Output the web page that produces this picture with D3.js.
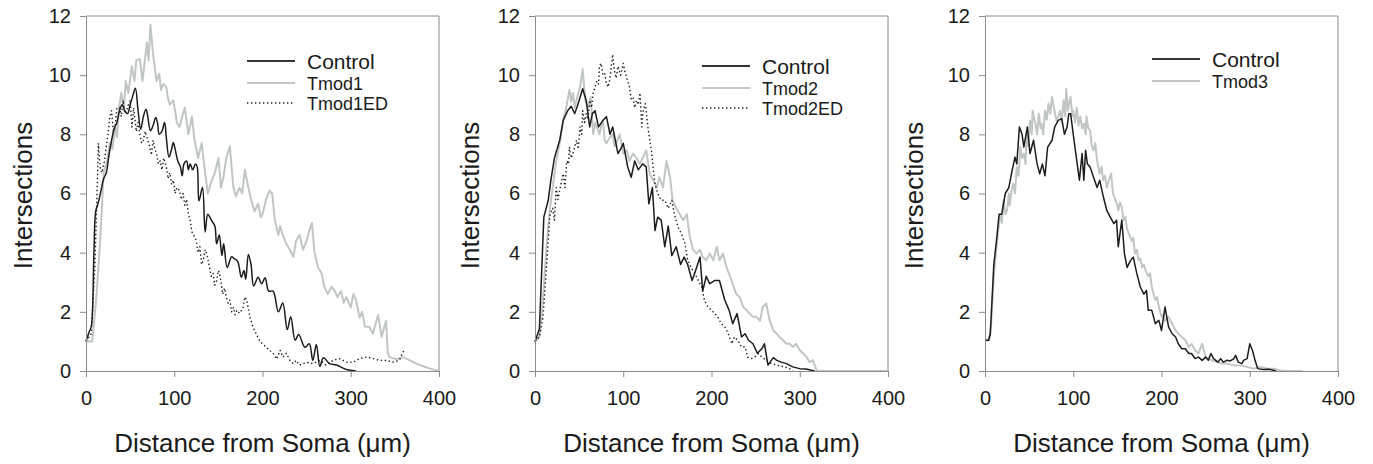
<!DOCTYPE html>
<html>
<head>
<meta charset="UTF-8">
<title>Sholl analysis</title>
<style>
  body { margin: 0; background: #fff; }
  svg { display: block; font-family: "Liberation Sans", Arial, sans-serif; }
  .tick text { fill: #1a1a1a; font-size: 20px; }
  .tick line, .domain { stroke: #8a8a8a; }
</style>
</head>
<body>
<div id="chart"></div>
<script src="https://d3js.org/d3.v7.min.js"></script>
<script>
// Sholl profiles: [distance from soma (um), intersections]
const xTicks = [0, 100, 200, 300, 400];
const yTicks = [0, 2, 4, 6, 8, 10, 12];

const p1Control = [[0,1.0],[4,1.35],[6,1.5],[9,4.0],[11,5.4],[14,5.7],[17,6.1],[20,6.5],[23,6.7],[26,7.3],[29,7.8],[32,8.2],[35,8.4],[38,8.8],[41,9.0],[44,8.8],[47,8.7],[50,9.0],[53,9.3],[56,9.56],[59,8.8],[62,8.17],[65,8.6],[68,8.85],[70,8.6],[73,8.12],[76,8.3],[79,8.57],[81,8.4],[83,8.0],[86,8.1],[89,8.4],[91,7.9],[94,7.23],[97,7.5],[99,7.72],[101,7.5],[104,7.1],[107,6.9],[109,6.6],[111,7.0],[114,7.1],[116,6.8],[118,7.0],[121,6.8],[124,7.0],[126,6.9],[128,5.75],[132,6.2],[135,4.7],[138,5.3],[142,5.1],[146,4.9],[148,4.3],[151,4.6],[154,3.9],[156,4.3],[160,3.5],[165,3.86],[168,3.8],[172,3.7],[176,3.17],[179,3.4],[181,3.1],[184,3.94],[187,3.6],[190,2.87],[195,3.17],[199,2.95],[203,3.15],[207,2.7],[212,2.7],[218,2.0],[223,2.3],[228,1.4],[232,1.83],[237,1.04],[241,1.23],[248,0.8],[253,0.92],[257,0.36],[261,0.9],[265,0.15],[269,0.45],[276,0.25],[284,0.2],[295,0.05],[306,0]];
const p1Tmod1 = [[0,1.0],[7,1.0],[8,1.26],[12,2.6],[16,4.4],[18,5.5],[20,6.7],[24,7.1],[27,7.7],[30,7.5],[33,8.25],[35,7.9],[37,8.8],[40,9.4],[43,8.9],[45,9.8],[48,9.4],[52,10.3],[55,9.8],[57,10.5],[61,10.55],[64,9.8],[69,11.1],[71,10.5],[73,11.7],[76,10.7],[80,9.8],[83,10.05],[85,9.5],[87.5,9.7],[91,9.6],[93,9.2],[95,9.0],[99,9.15],[103,8.4],[106,8.25],[109,8.6],[112,8.9],[116,8.0],[120,8.6],[123,7.8],[127,7.2],[131,7.7],[135,6.7],[138,6.0],[142,6.4],[146,6.7],[150,7.2],[153,6.2],[156,6.6],[159,7.2],[163,7.6],[167,6.2],[170,5.9],[174,6.2],[177,6.0],[180,6.8],[184,6.2],[187,5.8],[191,5.4],[195,5.65],[198,5.2],[200,5.3],[204,5.8],[208,6.1],[211,6.0],[214,5.1],[218,4.6],[220,4.9],[223,4.6],[227,4.3],[231,4.1],[235,3.85],[238,4.4],[242,4.6],[246,4.1],[250,4.4],[253,4.75],[256,5.0],[259,4.0],[263,3.5],[267,3.3],[270,2.85],[274,2.6],[278,2.85],[282,2.7],[285,2.5],[289,2.7],[292,2.3],[295,2.5],[300,2.15],[303,2.6],[306,2.4],[310,1.8],[313,2.0],[316,1.5],[321,1.5],[325,1.26],[331,1.9],[335,1.15],[340,1.7],[342,0.6],[344,0.47],[352,0.4],[359,0.47],[367,0.36],[374,0.25],[382,0.16],[390,0.08],[400,0]];
const p1Tmod1ED = [[0,1.0],[6,1.26],[10,3.5],[13,6.5],[14,7.7],[16,6.9],[18,6.7],[21,7.1],[23,7.6],[25,8.0],[27,8.6],[29,8.8],[31,8.1],[33,8.25],[35,8.9],[38,8.9],[40,8.6],[42,9.15],[44,8.7],[46,8.8],[48,9.0],[50,9.15],[52,8.25],[54,8.9],[57,8.1],[59,8.4],[61,8.0],[63,7.7],[65,7.8],[67,8.1],[69,7.9],[72,7.6],[74,7.3],[76,7.8],[78,7.5],[80,7.35],[82,7.0],[84,7.1],[86,6.8],[88,7.2],[91,6.9],[93,6.5],[95,6.7],[97,6.3],[99,6.45],[101,6.0],[103,6.2],[106,6.1],[108,5.8],[110,6.0],[112,5.6],[114,5.8],[116,5.3],[118,5.1],[120,4.7],[122,4.6],[125,4.4],[127,4.0],[129,4.2],[131,3.6],[133,3.75],[135,4.1],[137,3.95],[140,3.5],[142,3.2],[144,3.3],[146,2.9],[148,3.05],[150,3.4],[152,3.2],[155,2.6],[157,2.8],[159,2.5],[161,2.3],[163,2.4],[165,2.0],[167,2.15],[169,1.9],[171,2.05],[174,1.95],[178,2.15],[180,2.5],[182,2.4],[186,1.8],[189,1.5],[193,1.25],[197,1.0],[201,0.9],[204,0.8],[208,0.7],[212,0.6],[216,0.4],[220,0.7],[223,0.47],[227,0.6],[231,0.36],[235,0.25],[238,0.36],[242,0.2],[250,0.3],[257,0.25],[265,0.36],[272,0.2],[280,0.36],[287,0.42],[295,0.3],[303,0.3],[310,0.42],[318,0.47],[325,0.42],[333,0.36],[340,0.36],[348,0.3],[355,0.36],[361,0.75]];

const p2Control = [[0,0.98],[5,1.43],[10,5.2],[15,5.77],[18,6.45],[22,7.2],[25,7.5],[28,7.8],[32,8.47],[37,8.8],[41,8.95],[45,8.7],[49,9.04],[54,9.54],[58,9.15],[62,8.25],[65,8.7],[68,8.8],[72,8.25],[77,8.47],[81,8.6],[85,8.0],[88,8.25],[91,7.8],[94,7.35],[97,7.5],[100,7.7],[105,6.9],[109,6.55],[113,7.1],[117,6.8],[122,7.0],[126,6.9],[129,5.65],[133,6.2],[136,4.75],[139,5.2],[143,5.1],[147,4.2],[151,4.9],[155,3.9],[160,4.2],[165,3.6],[169,3.85],[173,3.6],[178,3.06],[182,3.4],[187,3.85],[190,2.7],[194,3.2],[198,2.95],[204,3.06],[209,3.06],[215,2.4],[220,2.05],[224,1.6],[229,1.94],[234,1.15],[238,1.26],[242,1.04],[247,0.92],[252,0.6],[257,0.75],[260,0.92],[264,0.2],[270,0.45],[274,0.36],[279,0.3],[285,0.25],[292,0.14],[300,0.08],[307,0.07],[317,0]];
const p2Tmod2 = [[0,1.0],[5,1.15],[9,2.4],[13,4.2],[17,5.5],[20,6.2],[24,7.1],[28,7.7],[32,8.5],[36,9.0],[39,9.5],[41,9.1],[43,9.4],[45,8.9],[47,9.15],[51,9.6],[54,10.2],[57,9.15],[60,8.9],[63,9.26],[66,8.0],[68,8.4],[70,8.25],[73,8.0],[75,8.3],[77,8.47],[79,7.8],[81,7.7],[85,7.9],[88,8.0],[90,7.6],[92,7.7],[96,8.0],[100,7.35],[104,7.46],[107,7.1],[111,7.35],[115,7.2],[119,7.0],[122,7.2],[126,7.46],[130,6.67],[134,6.45],[138,6.2],[141,6.55],[145,6.2],[149,7.1],[153,6.55],[156,5.77],[160,5.5],[164,5.3],[168,5.1],[172,5.3],[175,4.6],[179,4.1],[183,3.97],[187,4.1],[190,3.85],[194,3.74],[198,3.97],[202,3.74],[206,4.2],[209,3.74],[213,3.97],[217,3.5],[221,3.2],[224,2.95],[228,2.6],[232,2.5],[236,2.16],[240,2.05],[243,1.94],[247,1.83],[251,1.83],[255,1.7],[258,2.16],[262,2.28],[266,1.7],[270,1.37],[274,1.26],[277,1.15],[281,1.04],[285,0.92],[289,0.92],[292,0.81],[296,0.92],[300,0.7],[304,0.59],[308,0.47],[311,0.3],[315,0.36],[319,0.02],[330,0],[400,0]];
const p2Tmod2ED = [[0,1.0],[5,1.15],[9,1.8],[13,3.5],[17,5.3],[20,5.5],[22,5.1],[24,6.2],[26,5.8],[28,6.1],[30,6.4],[32,6.67],[34,6.2],[36,7.1],[38,7.0],[39,7.57],[41,7.2],[43,7.35],[45,7.57],[47,7.8],[49,7.5],[51,8.25],[53,8.0],[54,8.8],[56,8.4],[58,8.7],[60,8.5],[62,9.15],[64,8.9],[66,9.4],[68,9.6],[70,9.8],[72,9.7],[73,10.3],[75,10.4],[77,10.0],[79,10.05],[81,9.7],[83,9.6],[85,9.9],[88,10.7],[90,10.15],[92,9.9],[94,10.3],[97,10.0],[100,10.4],[102,10.1],[104,9.9],[107,9.6],[109,9.2],[111,9.26],[113,8.9],[115,9.15],[117,9.0],[119,9.4],[121,8.25],[122,8.7],[125,9.04],[128,8.25],[130,7.8],[132,7.46],[134,6.8],[136,6.33],[139,6.0],[141,5.9],[143,5.77],[147,5.77],[151,5.5],[155,5.77],[158,5.3],[162,4.87],[166,4.64],[170,4.3],[173,3.74],[177,3.5],[181,3.3],[185,3.06],[189,2.84],[192,2.39],[196,2.16],[200,2.05],[204,1.94],[207,1.83],[211,1.6],[215,1.5],[219,1.26],[223,0.92],[226,1.15],[230,1.04],[234,0.81],[238,0.81],[241,0.47],[245,0.42],[249,0.47],[253,0.59],[257,0.47],[262,0.36],[268,0.25],[275,0.19],[283,0.14],[289,0.07],[292,0]];

const p3Control = [[0,1.04],[4,1.04],[6,1.26],[10,3.6],[13,4.4],[16,5.3],[19,5.3],[23,6.0],[27,6.2],[30,6.67],[34,7.23],[36,7.0],[39,8.25],[42,8.0],[44,7.57],[48,8.25],[51,7.35],[55,7.8],[59,7.0],[62,6.67],[65,7.0],[68,6.6],[71,7.57],[76,7.8],[79,8.25],[83,8.47],[87,8.53],[90,8.0],[93,8.25],[95,8.7],[97,8.7],[100,8.0],[104,7.1],[107,6.45],[110,7.35],[112,6.45],[114,7.46],[116,7.0],[119,6.9],[123,6.55],[127,6.2],[130,6.45],[134,5.9],[138,5.43],[142,5.2],[146,4.98],[149,5.1],[151,4.2],[155,5.1],[158,3.97],[161,3.5],[165,3.74],[168,3.85],[172,3.3],[176,2.84],[180,2.6],[183,2.72],[185,2.05],[189,2.05],[193,1.6],[197,1.71],[200,1.37],[204,2.16],[208,1.49],[212,1.26],[216,1.15],[219,0.92],[223,0.75],[227,0.75],[231,0.59],[234,0.59],[238,0.42],[242,0.47],[246,0.36],[250,0.47],[253,0.36],[256,0.59],[259,0.42],[264,0.3],[267,0.42],[270,0.3],[274,0.36],[278,0.34],[282,0.42],[284,0.53],[287,0.3],[291,0.25],[293,0.36],[297,0.42],[300,0.92],[303,0.7],[306,0.36],[309,0.08],[315,0.05],[322,0.06],[330,0]];
const p3Tmod3 = [[0,1.04],[5,1.04],[7,1.6],[10,3.2],[13,4.2],[17,5.3],[19,5.0],[21,5.77],[23,5.3],[25,5.43],[27,6.0],[28,5.6],[30,6.1],[32,6.33],[34,6.0],[36,6.9],[38,6.6],[40,7.57],[42,7.2],[44,7.35],[46,7.0],[47,8.0],[49,7.6],[51,8.47],[53,8.0],[54,8.8],[57,8.36],[59,8.0],[61,8.7],[63,8.2],[64,8.36],[66,8.0],[68,8.8],[70,8.5],[72,9.04],[74,8.7],[76,9.26],[78,8.9],[81,8.47],[83,8.6],[85,8.8],[87,8.4],[89,9.15],[91,8.6],[92,9.54],[94,8.8],[95,9.04],[97,9.26],[99,8.6],[100,8.8],[102,8.4],[104,8.9],[106,8.3],[108,8.6],[110,8.2],[112,8.36],[114,8.0],[115,8.6],[117,8.2],[119,8.14],[121,7.6],[123,7.46],[125,7.7],[127,7.1],[129,6.8],[130,6.67],[132,6.9],[134,6.45],[136,6.6],[138,6.2],[140,6.4],[143,6.67],[145,6.0],[148,5.77],[150,5.6],[151,5.43],[153,5.7],[155,5.54],[157,5.1],[159,5.2],[161,4.8],[163,4.64],[166,4.4],[168,4.5],[170,3.97],[172,4.1],[174,3.74],[176,3.8],[178,3.5],[180,3.6],[182,3.4],[185,3.2],[187,3.3],[189,2.84],[191,2.6],[193,2.4],[195,2.5],[197,2.16],[200,1.83],[202,1.9],[204,1.7],[208,1.83],[212,1.6],[216,1.37],[219,1.26],[223,1.15],[227,1.04],[231,0.81],[234,0.92],[238,0.7],[242,0.59],[246,0.92],[250,0.47],[253,0.42],[257,0.36],[263,0.3],[268,0.25],[274,0.25],[282,0.19],[289,0.19],[297,0.14],[304,0.08],[312,0.14],[320,0.08],[327,0.08],[335,0.02],[340,0],[360,0]];

const panelLabels = [["Control", "Tmod1", "Tmod1ED"], ["Control", "Tmod2", "Tmod2ED"], ["Control", "Tmod3"]];
const panelSeries = [[p1Control, p1Tmod1, p1Tmod1ED], [p2Control, p2Tmod2, p2Tmod2ED], [p3Control, p3Tmod3]];

const width = 1373, height = 464;
const plotTop = 16, plotBottom = 371;
const layout = [
  {left: 86, right: 439, titleX: 32, legX: 247, legY: 61},
  {left: 535, right: 888, titleX: 479, legX: 702, legY: 66},
  {left: 985, right: 1338, titleX: 923, legX: 1152, legY: 59}
];
const styles = [
  {stroke: "#1c1c1c", width: 1.5, dash: null},
  {stroke: "#c0c6c6", width: 2, dash: null},
  {stroke: "#1c1c1c", width: 1.4, dash: "1.4,2.6"}
];

const svg = d3.select("#chart").append("svg")
  .attr("width", width).attr("height", height);
svg.append("rect").attr("width", width).attr("height", height).attr("fill", "#fff");

layout.forEach((L, i) => {
  const x = d3.scaleLinear().domain([0, 400]).range([L.left, L.right]);
  const y = d3.scaleLinear().domain([0, 12]).range([plotBottom, plotTop]);
  const g = svg.append("g");

  // frame top & right
  g.append("path")
    .attr("d", `M${L.left},${plotTop}H${L.right}V${plotBottom}`)
    .attr("fill", "none").attr("stroke", "#8a8a8a").attr("stroke-width", 1);

  // series, light gray underneath first
  const order = [1, 0, 2].filter(k => k < panelSeries[i].length);
  order.forEach(k => {
    const s = styles[k];
    const line = d3.line().x(d => x(d[0])).y(d => y(d[1]))
      .curve((i === 0 && k === 0) ? d3.curveCatmullRom : d3.curveLinear);
    g.append("path")
      .datum(panelSeries[i][k])
      .attr("d", line)
      .attr("fill", "none")
      .attr("stroke", s.stroke)
      .attr("stroke-width", s.width)
      .attr("stroke-linejoin", "round")
      .attr("stroke-dasharray", s.dash);
  });

  g.append("g")
    .attr("transform", `translate(0,${plotBottom})`)
    .call(d3.axisBottom(x).tickValues(xTicks).tickSize(6).tickPadding(14).tickSizeOuter(0))
    .call(a => a.selectAll("text").attr("font-family", "Liberation Sans, Arial, sans-serif"));
  g.append("g")
    .attr("transform", `translate(${L.left},0)`)
    .call(d3.axisLeft(y).tickValues(yTicks).tickSize(6).tickPadding(9).tickSizeOuter(0))
    .call(a => a.selectAll("text").attr("font-family", "Liberation Sans, Arial, sans-serif"));

  g.append("text")
    .attr("transform", `translate(${L.titleX},${(plotTop + plotBottom) / 2 + 2}) rotate(-90)`)
    .attr("text-anchor", "middle").attr("font-size", 26).attr("fill", "#1a1a1a")
    .text("Intersections");
  g.append("text")
    .attr("x", (L.left + L.right) / 2).attr("y", 452)
    .attr("text-anchor", "middle").attr("font-size", 26).attr("fill", "#1a1a1a")
    .text("Distance from Soma (\u03bcm)");

  // legend
  const rowY = [0, 22, 42];
  panelLabels[i].forEach((lab, k) => {
    const s = styles[k];
    const ly = L.legY + rowY[k];
    g.append("line")
      .attr("x1", L.legX).attr("x2", L.legX + 48)
      .attr("y1", ly).attr("y2", ly)
      .attr("stroke", k === 0 ? "#333" : s.stroke)
      .attr("stroke-width", k === 0 ? 2 : s.width)
      .attr("stroke-dasharray", s.dash);
    g.append("text")
      .attr("x", L.legX + 60).attr("y", ly + (k === 0 ? 7.5 : 6.5))
      .attr("font-size", k === 0 ? 21 : 18).attr("fill", "#1a1a1a")
      .text(lab);
  });
});
</script>
</body>
</html>
